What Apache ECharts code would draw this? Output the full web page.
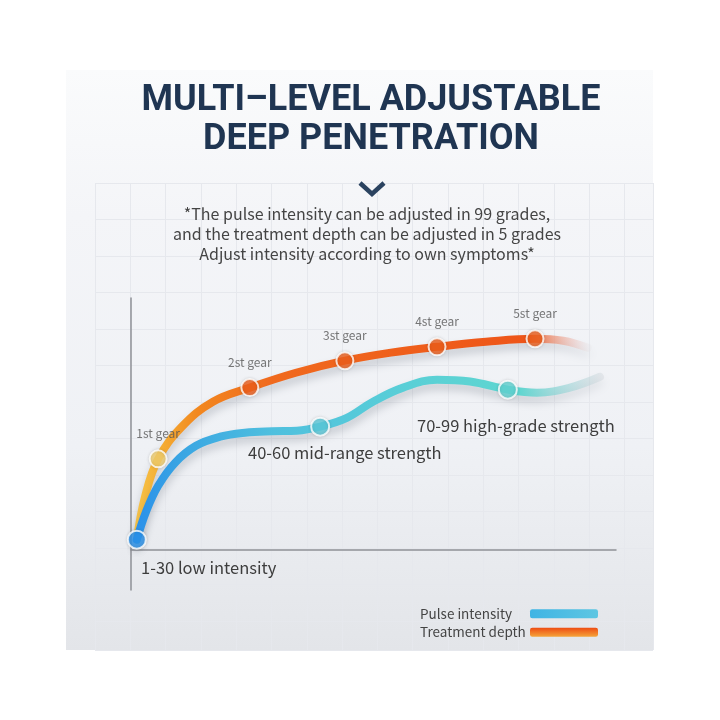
<!DOCTYPE html>
<html>
<head>
<meta charset="utf-8">
<script src="https://cdn.jsdelivr.net/npm/echarts@6/dist/echarts.min.js"></script>
<style>
  html, body { margin: 0; padding: 0; background: #fff; }
  #chart { width: 720px; height: 720px; }
</style>
</head>
<body>
<div id="chart"></div>
<script>
const titleText = 'MULTI–LEVEL ADJUSTABLE\nDEEP PENETRATION'
const noteLines = [
  '*The pulse intensity can be adjusted in 99 grades,',
  'and the treatment depth can be adjusted in 5 grades',
  'Adjust intensity according to own symptoms*'
]
const seriesNames = ['Pulse intensity', 'Treatment depth']

// treatment depth curve (x: 0-100 along the axis, y: 0-100 upward)
const depthX = [1.2, 2.9, 5.6, 10.5, 16.9, 24.5, 34.0, 44.1, 53.6, 63.1, 73.2, 83.3, 89.1, 94.2]
const depthY = [4.0, 21.1, 36.1, 48.9, 58.8, 64.4, 70.3, 75.1, 78.3, 80.6, 82.6, 83.8, 83.0, 80.2]
const gearIndex = [2, 5, 7, 9, 11]
const gearNames = ['1st gear', '2st gear', '3st gear', '4st gear', '5st gear']

// pulse intensity curve
const pulseX = [1.2, 3.1, 5.6, 9.1, 13.4, 18.4, 23.5, 29.1, 34.2, 39.0, 44.5, 49.9, 56.1, 63.1, 69.9, 77.7, 83.7, 90.5, 96.7]
const pulseY = [4.0, 15.1, 25.4, 34.6, 41.3, 44.9, 46.5, 47.1, 47.3, 48.9, 52.4, 58.8, 64.4, 67.5, 66.8, 63.6, 62.4, 64.4, 68.7]
const levelIndex = [0, 9, 15]
const levelNames = ['1-30 low intensity', '40-60 mid-range strength', '70-99 high-grade strength']

const chart = echarts.init(document.getElementById('chart'), null, { renderer: 'canvas' })

const grad = (x2, y2, stops) => new echarts.graphic.LinearGradient(0, 0, x2, y2,
  stops.map(([offset, color]) => ({ offset, color })))

const depthColor = grad(1, 0, [
  [0, '#f7c64a'], [0.06, '#f4ae34'], [0.14, '#f2881f'], [0.3, '#f06a1e'],
  [0.86, '#ee5519'], [0.96, 'rgba(236,180,170,0.45)'], [1, 'rgba(225,226,230,0.2)']
])
const pulseColor = grad(1, 0, [
  [0, '#2a8fea'], [0.1, '#39a5e3'], [0.3, '#4fc0de'], [0.6, '#5ad0d6'],
  [0.82, '#5fd6d0'], [0.93, 'rgba(150,210,212,0.55)'], [1, 'rgba(205,208,214,0.35)']
])
const lineShadow = { shadowColor: 'rgba(70,80,95,0.25)', shadowBlur: 9, shadowOffsetY: 6 }
const textFont = 'Noto Sans CJK SC'
const gridLine = { show: true, lineStyle: { color: '#e6e8ed', width: 1 } }

const hiddenAxis = { show: true, axisLine: { show: false }, axisTick: { show: false }, axisLabel: { show: false } }

const option = {
  backgroundColor: '#fff',
  animation: false,
  title: {
    text: titleText,
    left: 371,
    top: 81,
    padding: 0,
    textAlign: 'center',
    textStyle: { fontFamily: 'Roboto', fontWeight: 'bold', fontSize: 36, lineHeight: 39, color: '#1f3552' }
  },
  legend: {
    orient: 'vertical',
    left: 420,
    top: 607,
    itemWidth: 68,
    itemHeight: 9,
    itemGap: 5,
    align: 'right',
    padding: 0,
    formatter: '{n|{name}}',
    textStyle: {
      rich: { n: { fontFamily: textFont, fontSize: 13.5, color: '#444', width: 105, align: 'left' } }
    },
    data: [
      { name: seriesNames[0], icon: 'roundRect',
        itemStyle: { color: grad(1, 0, [[0, '#3fb4e4'], [1, '#5ec6e2']]), borderWidth: 0 } },
      { name: seriesNames[1], icon: 'roundRect',
        itemStyle: { color: grad(0, 1, [[0, '#ee4c12'], [1, '#f5a43a']]), borderWidth: 0 } }
    ]
  },
  grid: [
    { left: 95, right: 67, top: 183, bottom: 70 },
    { left: 131, right: 104, top: 298, bottom: 130 }
  ],
  xAxis: [
    { ...hiddenAxis, gridIndex: 0, type: 'value', min: 0, max: 558, interval: 35.3, splitLine: gridLine },
    { gridIndex: 1, type: 'value', min: 0, max: 100,
      axisLine: { show: true, onZero: true, lineStyle: { color: '#8e9196', width: 1.5 } },
      axisTick: { show: false }, axisLabel: { show: false }, splitLine: { show: false } }
  ],
  yAxis: [
    { ...hiddenAxis, gridIndex: 0, type: 'value', inverse: true, min: 0, max: 467, interval: 36.5, splitLine: gridLine },
    { gridIndex: 1, type: 'value', min: -16, max: 100,
      axisLine: { show: true, onZero: false, lineStyle: { color: '#8e9196', width: 1.5 } },
      axisTick: { show: false }, axisLabel: { show: false }, splitLine: { show: false } }
  ],
  graphic: [
    {
      type: 'rect', z: -100, silent: true,
      shape: { x: 66, y: 70, width: 587, height: 580 },
      style: { fill: grad(0, 1, [[0, '#fafbfc'], [0.25, '#f4f5f8'], [0.65, '#eff1f5'], [1, '#e3e5e9']]) }
    },
    {
      type: 'polyline', z: 10,
      shape: { points: [[360, 183], [372, 194], [384, 183]] },
      style: { stroke: '#2b4360', lineWidth: 4.5, fill: null }
    },
    {
      type: 'text', z: 10, x: 367, y: 204,
      style: { text: noteLines.join('\n'), textAlign: 'center', fontFamily: textFont,
        fontSize: 16, lineHeight: 20, fill: '#444' }
    },
    {
      type: 'text', z: 10, x: 141, y: 559,
      style: { text: levelNames[0], fontFamily: textFont, fontSize: 16.5, fill: '#3d3d3d' }
    },
    {
      type: 'text', z: 10, x: 248, y: 444,
      style: { text: levelNames[1], fontFamily: textFont, fontSize: 16.5, fill: '#3d3d3d' }
    },
    {
      type: 'text', z: 10, x: 417, y: 417,
      style: { text: levelNames[2], fontFamily: textFont, fontSize: 16.5, fill: '#3d3d3d' }
    }
  ],
  series: [
    {
      name: seriesNames[1],
      type: 'line',
      xAxisIndex: 1, yAxisIndex: 1,
      smooth: 0.4,
      symbol: 'none',
      z: 2,
      lineStyle: { width: 8, color: depthColor, cap: 'round', ...lineShadow },
      itemStyle: { color: '#f06a1e' },
      data: depthX.map((x, i) => [x, depthY[i]])
    },
    {
      name: seriesNames[0],
      type: 'line',
      xAxisIndex: 1, yAxisIndex: 1,
      smooth: 0.4,
      symbol: 'none',
      z: 3,
      lineStyle: { width: 8, color: pulseColor, cap: 'round', ...lineShadow },
      itemStyle: { color: '#4fc0de' },
      data: pulseX.map((x, i) => [x, pulseY[i]])
    },
    {
      type: 'scatter',
      xAxisIndex: 1, yAxisIndex: 1,
      z: 4,
      symbolSize: 17,
      itemStyle: { borderColor: '#fff', borderWidth: 2, shadowColor: 'rgba(0,0,0,0.15)', shadowBlur: 3 },
      label: {
        show: true, position: 'top', distance: 10,
        fontFamily: textFont, fontSize: 12, color: '#555',
        formatter: (p) => gearNames[p.dataIndex]
      },
      data: gearIndex.map((i, k) => ({
        value: [depthX[i], depthY[i]],
        itemStyle: { color: k === 0 ? '#f3cf6e' : '#ef5f1c' }
      }))
    },
    {
      type: 'scatter',
      xAxisIndex: 1, yAxisIndex: 1,
      z: 5,
      symbolSize: 18,
      itemStyle: { borderColor: '#fff', borderWidth: 2, shadowColor: 'rgba(0,0,0,0.15)', shadowBlur: 3 },
      data: levelIndex.map((i, k) => ({
        value: [pulseX[i], pulseY[i]],
        itemStyle: { color: ['#2a93ee', '#5ccbdb', '#62d5d3'][k] }
      }))
    }
  ]
}

chart.setOption(option)
</script>
</body>
</html>
